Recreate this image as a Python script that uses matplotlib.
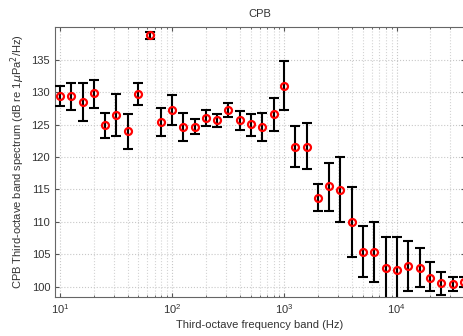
import numpy as np
import matplotlib
matplotlib.use("Agg")
import matplotlib.pyplot as plt
from matplotlib.ticker import LogLocator, FixedLocator, NullFormatter

plt.rcParams['font.family'] = ['Liberation Sans', 'DejaVu Sans']

# third-octave band centres (Hz)
freqs = [10, 12.5, 16, 20, 25, 31.5, 40, 50, 63, 80, 100, 125, 160, 200, 250,
         315, 400, 500, 630, 800, 1000, 1250, 1600, 2000, 2500, 3150, 4000,
         5000, 6300, 8000, 10000, 12500, 16000, 20000, 25000, 31500, 40000]
# band levels and error bar ends (dB re 1 uPa^2/Hz)
level = [129.4, 129.4, 128.5, 129.8, 125.0, 126.5, 124.0, 129.75, 138.75, 125.4,
         127.3, 124.65, 124.6, 126.05, 125.7, 127.2, 125.7, 125.1, 124.6, 126.7,
         131.0, 121.5, 121.6, 113.65, 115.5, 114.9, 109.9, 105.4, 105.3, 102.9,
         102.6, 103.2, 102.95, 101.4, 100.5, 100.4, 100.7]
upper = [130.9, 131.4, 131.4, 131.9, 126.8, 129.65, 126.7, 131.4, 139.3, 127.5,
         129.5, 126.8, 125.85, 127.3, 126.7, 128.25, 127.1, 126.6, 126.8, 129.1,
         134.75, 124.8, 125.2, 115.8, 119.1, 120.0, 115.3, 109.4, 109.95, 107.7,
         107.7, 107.0, 105.9, 103.8, 102.2, 101.5, 101.5]
lower = [127.9, 127.2, 125.6, 127.6, 123.0, 123.3, 121.2, 128.05, 138.2, 123.3,
         124.9, 122.5, 123.5, 124.8, 124.55, 126.15, 124.2, 123.3, 122.5, 124.0,
         127.3, 118.4, 118.2, 111.6, 111.7, 110.0, 104.5, 101.45, 100.7, 98.1,
         97.5, 99.3, 100.0, 99.25, 98.7, 99.3, 99.9]

level = np.array(level)
yerr = [level - np.array(lower), np.array(upper) - level]

fig = plt.figure(figsize=(4.63, 3.36), dpi=100)
ax = fig.add_axes([55 / 463, 1 - 297 / 336, 410 / 463, 270 / 336])

ax.errorbar(freqs, level, yerr=yerr, fmt='none', ecolor='black',
            elinewidth=1.5, capsize=3.3, capthick=1.5, zorder=3)
ax.plot(freqs, level, 'o', mfc='none', mec='red', ms=5, mew=1.6, zorder=4)

ax.set_xscale('log')
ax.set_xlim(9.02, 40600)
ax.set_ylim(98.4, 140.05)
ax.yaxis.set_major_locator(FixedLocator([100, 105, 110, 115, 120, 125, 130, 135]))
ax.xaxis.set_major_locator(LogLocator(base=10, numticks=10))
ax.xaxis.set_minor_locator(LogLocator(base=10, subs=np.arange(2, 10), numticks=20))
ax.xaxis.set_minor_formatter(NullFormatter())

ax.grid(True, which='major', color='#c8c8c8', linestyle=':', linewidth=0.8)
ax.grid(True, which='minor', axis='x', color='#d4d4d4', linestyle=':', linewidth=0.8)
ax.set_axisbelow(True)

tc = '#333333'
ax.tick_params(which='both', direction='in', colors='#555555', labelcolor=tc,
               labelsize=8, top=True, right=True)
ax.tick_params(which='major', length=3)
ax.tick_params(which='minor', length=1.5)
for s in ax.spines.values():
    s.set_color('#666666')
    s.set_linewidth(0.8)

ax.set_title('CPB', fontsize=8, color=tc, pad=7)
ax.set_xlabel('Third-octave frequency band (Hz)', fontsize=8, color=tc, labelpad=3)
ax.set_ylabel(r'CPB Third-octave band spectrum (dB re 1$\mu$Pa$^2$/Hz)',
              fontsize=8, color=tc, labelpad=3)

fig.savefig('out.png', dpi=100)
